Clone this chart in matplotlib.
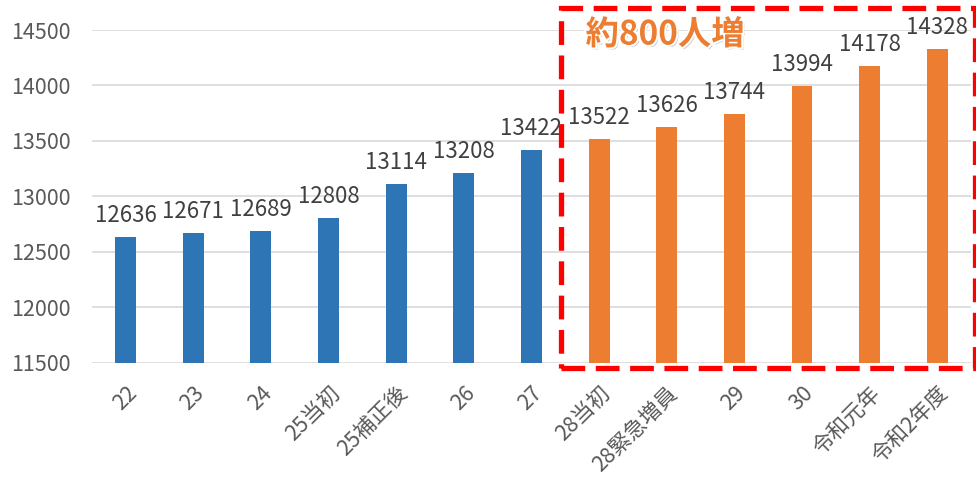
import matplotlib.pyplot as plt
import matplotlib.patheffects as pe
from matplotlib.patches import Rectangle

plt.rcParams['font.family'] = ['Noto Sans CJK JP', 'DejaVu Sans']

categories = ['22', '23', '24', '25当初', '25補正後', '26', '27',
              '28当初', '28緊急増員', '29', '30', '令和元年', '令和2年度']
values = [12636, 12671, 12689, 12808, 13114, 13208, 13422,
          13522, 13626, 13744, 13994, 14178, 14328]
colors = ['#2E75B6'] * 7 + ['#ED7D31'] * 6
callout = '約800人増'

fig = plt.figure(figsize=(9.76, 4.8), dpi=100)
ax = fig.add_axes([0.094, 0.244, 0.901, 0.6935])

x = range(len(categories))
ax.bar(x, values, width=0.31, color=colors, zorder=3)

for i, v in zip(x, values):
    ax.text(i, v + 90, str(v), ha='center', va='bottom', fontsize=16,
            color='#404040', clip_on=False)

ax.set_ylim(11500, 14500)
ax.set_xlim(-0.5, len(categories) - 0.5)
ax.set_yticks(range(11500, 15000, 500))
ax.yaxis.grid(True, color='#D9D9D9', linewidth=1.2, zorder=0)
ax.set_axisbelow(True)
for s in ax.spines.values():
    s.set_visible(False)
ax.tick_params(axis='both', length=0, labelcolor='#595959')
ax.tick_params(axis='y', labelsize=15.5, pad=15)
ax.set_xticks(list(x))
ax.set_xticklabels(categories, rotation=45, ha='right',
                   rotation_mode='anchor')
ax.tick_params(axis='x', labelsize=15.5, pad=14)

# red dashed box around the orange bars
box = Rectangle((6.43, 11455), 6.13, 3243, fill=False, edgecolor='#FF0000',
                linewidth=3.8, linestyle=(0, (4.5, 2)), clip_on=False,
                zorder=5)
ax.add_patch(box)

ax.text(6.8, 14455, callout, fontsize=24, fontweight='bold',
        color='#ED7D31', ha='left', va='center', clip_on=False,
        path_effects=[pe.SimplePatchShadow(offset=(1.5, -1.5),
                                           shadow_rgbFace='#999999',
                                           alpha=0.6),
                      pe.withStroke(linewidth=3, foreground='white')])

fig.savefig('out.png', dpi=100)
